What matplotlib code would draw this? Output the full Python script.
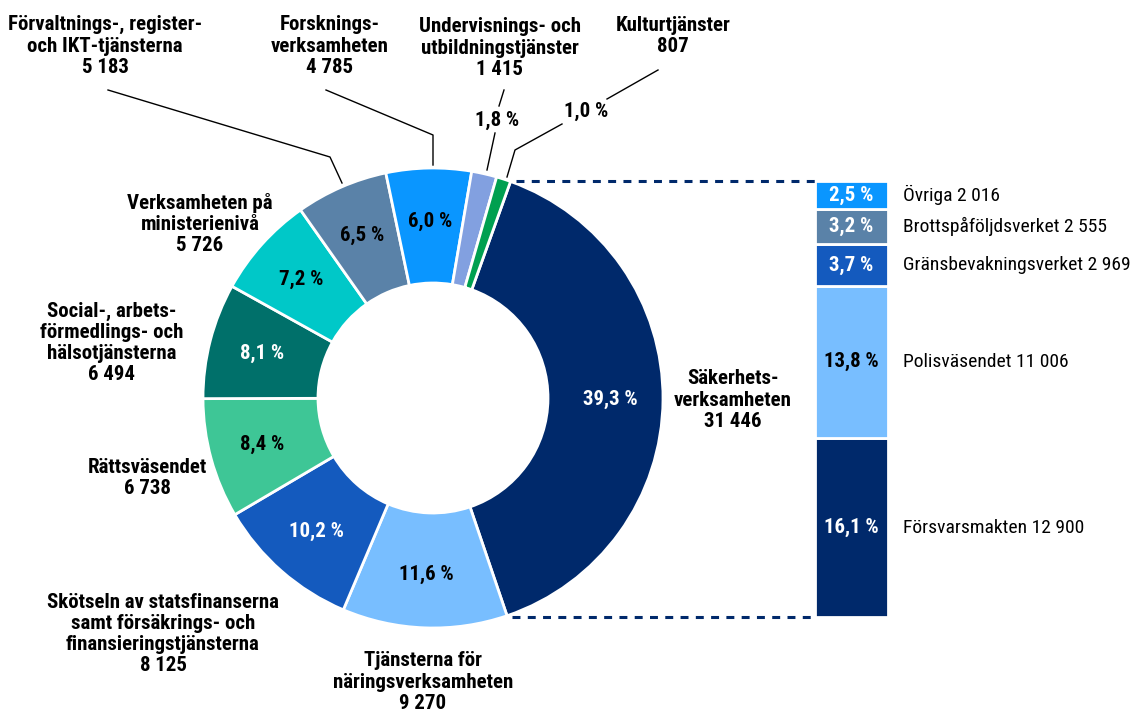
import matplotlib
matplotlib.use("Agg")
import matplotlib.pyplot as plt
from matplotlib import font_manager
import numpy as np

# pick a narrow face if one is installed, else Liberation Sans
FONT, FS, FS_R, LS = "Liberation Sans", 11.5, 12, 1.4
for cand in ["Liberation Sans Narrow", "Roboto Condensed", "Open Sans Condensed",
             "Noto Sans Condensed"]:
    try:
        font_manager.findfont(cand, fallback_to_default=False)
        FONT, FS, FS_R, LS = cand, 15, 14, 1.15
        break
    except ValueError:
        pass
plt.rcParams["font.family"] = [FONT, "DejaVu Sans"]

# donut data (clockwise from Säkerhetsverksamheten)
names = ["Säkerhets-\nverksamheten", "Tjänsterna för\nnäringsverksamheten",
         "Skötseln av statsfinanserna\nsamt försäkrings- och\nfinansieringstjänsterna",
         "Rättsväsendet", "Social-, arbets-\nförmedlings- och\nhälsotjänsterna",
         "Verksamheten på\nministerienivå", "Förvaltnings-, register-\noch IKT-tjänsterna",
         "Forsknings-\nverksamheten", "Undervisnings- och\nutbildningstjänster", "Kulturtjänster"]
values = [31446, 9270, 8125, 6738, 6494, 5726, 5183, 4785, 1415, 807]
colors = ["#00296B", "#78BEFF", "#145ABE", "#3EC696", "#00706A",
          "#00C8C8", "#5A82A8", "#0A96FF", "#82A0E0", "#00A050"]
pct_white = [True, False, True, False, True, False, False, False, False, False]

# breakdown of Säkerhetsverksamheten (bottom to top)
sub_names = ["Försvarsmakten", "Polisväsendet", "Gränsbevakningsverket",
             "Brottspåföljdsverket", "Övriga"]
sub_values = [12900, 11006, 2969, 2555, 2016]
sub_colors = ["#00296B", "#78BEFF", "#145ABE", "#5A82A8", "#0A96FF"]
sub_white = [True, False, True, True, True]

total = sum(values)


def fmt_num(v):
    return f"{v:,}".replace(",", " ")


def fmt_pct(v):
    return f"{v / total * 100:.1f}".replace(".", ",") + " %"


W, H = 1132, 713
Y = lambda y: H - y  # pixel row -> data y

fig = plt.figure(figsize=(W / 100, H / 100), dpi=100)
ax = fig.add_axes([0, 0, 1, 1])

cx, cy, R = 433, Y(398), 230
wedges, _ = ax.pie(values, colors=colors, startangle=70.3, counterclock=False,
                   radius=R, center=(cx, cy), frame=True,
                   wedgeprops=dict(width=R / 2, edgecolor="white", linewidth=2))
ax.set_xlim(0, W)
ax.set_ylim(0, H)
ax.axis("off")

for i, w in enumerate(wedges):
    if i >= 8:
        continue
    a = np.deg2rad((w.theta1 + w.theta2) / 2)
    r = 177
    ax.text(cx + r * np.cos(a), cy + r * np.sin(a), fmt_pct(values[i]),
            ha="center", va="center", fontsize=FS, fontweight="bold",
            color="white" if pct_white[i] else "black")

# outer labels (pixel positions)
label_pos = [(733, 400), (423, 682), (163, 634), (147, 478), (112, 343),
             (200, 224), (105, 46), (330, 46), (500, 48), (673, 36)]
for i, (x, y) in enumerate(label_pos):
    ax.text(x, Y(y), names[i] + "\n" + fmt_num(values[i]), ha="center", va="center",
            fontsize=FS, fontweight="bold", linespacing=LS)

# small-slice percentages placed on leaders
ax.text(497, Y(120), fmt_pct(values[8]), ha="center", va="center", fontsize=FS, fontweight="bold")
ax.text(586, Y(111), fmt_pct(values[9]), ha="center", va="center", fontsize=FS, fontweight="bold")

leaders = [
    [(108, 90), (330, 157), (342, 183)],
    [(326, 90), (433, 135), (433, 165)],
    [(504, 90), (499, 106)],
    [(495, 133), (487, 170)],
    [(658, 70), (607, 99)],
    [(562, 124), (515, 150), (507, 177)],
]
for pts in leaders:
    xs = [p[0] for p in pts]
    ys = [Y(p[1]) for p in pts]
    ax.plot(xs, ys, color="black", lw=1)

# stacked bar for the breakdown
bx0, bx1, by0, by1 = 815, 888, 617, 181
bax = fig.add_axes([bx0 / W, Y(by0) / H, (bx1 - bx0) / W, (by0 - by1) / H])
bottom = 0
for v, c, wht, nm in zip(sub_values, sub_colors, sub_white, sub_names):
    bax.bar(0.5, v, bottom=bottom, width=1, color=c, edgecolor="white", linewidth=2)
    mid = bottom + v / 2
    bax.text(0.5, mid, fmt_pct(v), ha="center", va="center", fontsize=FS,
             fontweight="bold", color="white" if wht else "black")
    bax.text(1.2, mid, f"{nm} {fmt_num(v)}", ha="left", va="center", fontsize=FS_R,
             clip_on=False)
    bottom += v
bax.set_xlim(0, 1)
bax.set_ylim(0, sum(sub_values))
bax.axis("off")

# dashed connectors from the Säkerhet wedge to the bar
w0 = wedges[0]
for th, yb in [(w0.theta2, by1), (w0.theta1, by0)]:
    t = np.deg2rad(th)
    ax.plot([cx + R * np.cos(t) + 5, bx0], [Y(yb), Y(yb)],
            color="#00296B", lw=2.2, ls=(0, (2.6, 2.4)))

fig.savefig("out.png", dpi=100)
